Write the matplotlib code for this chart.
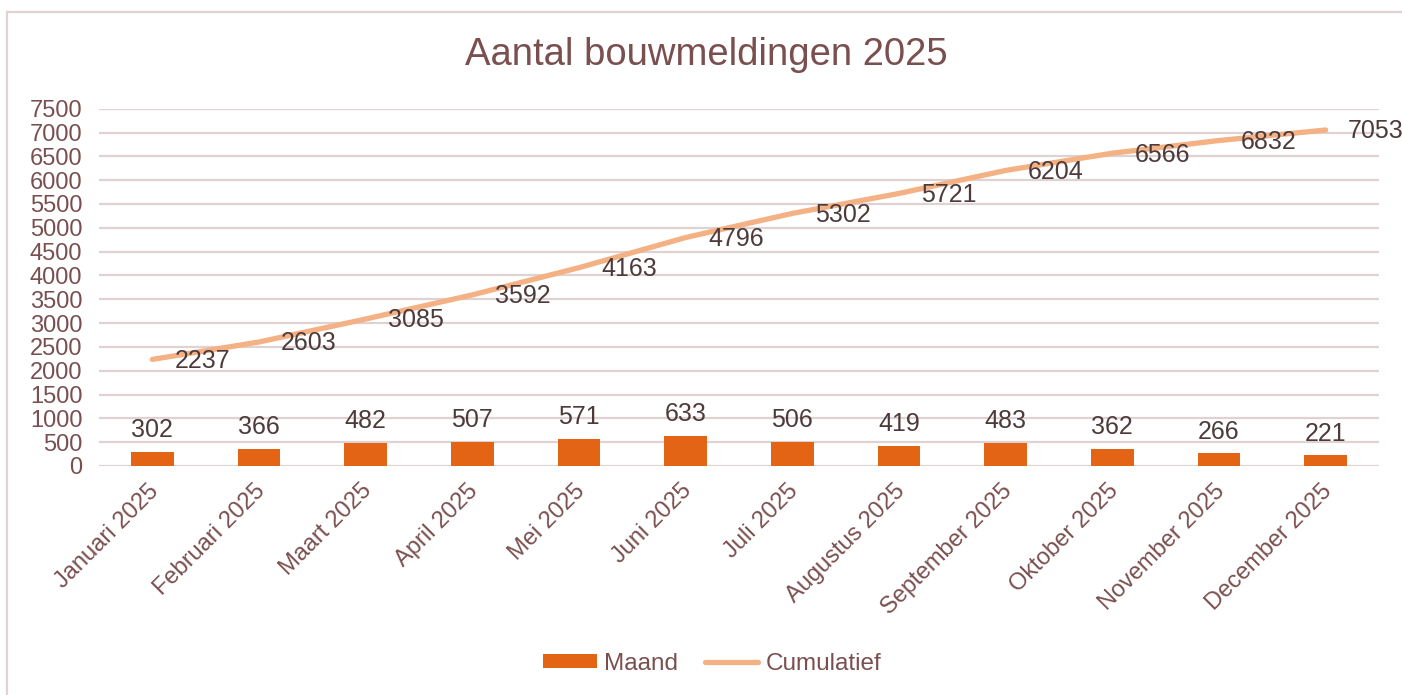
import numpy as np
import matplotlib.pyplot as plt
from matplotlib.lines import Line2D
from matplotlib.transforms import ScaledTranslation


maanden = ['Januari 2025', 'Februari 2025', 'Maart 2025', 'April 2025', 'Mei 2025',
           'Juni 2025', 'Juli 2025', 'Augustus 2025', 'September 2025',
           'Oktober 2025', 'November 2025', 'December 2025']
maand = [302, 366, 482, 507, 571, 633, 506, 419, 483, 362, 266, 221]
cumulatief = [2237, 2603, 3085, 3592, 4163, 4796, 5302, 5721, 6204, 6566, 6832, 7053]
y_ticks = list(range(0, 7501, 500))


def main():
    plt.rcParams['font.family'] = ['Liberation Sans', 'DejaVu Sans']

    tekst_kleur = '#7a4f4f'
    label_kleur = '#4d3b3b'
    bar_kleur = '#e36414'
    lijn_kleur = '#f4b183'
    grid_kleur = '#e0d2d2'

    fig = plt.figure(figsize=(14.02, 6.95), dpi=100)
    ax = fig.add_axes([0.0706, 0.3295, 0.913, 0.5141])

    x = np.arange(len(maanden))

    # staven per maand
    staven = ax.bar(x, maand, width=0.4, color=bar_kleur, label='Maand', zorder=2)
    for xi, v in zip(x, maand):
        ax.annotate(str(v), (xi, v), xytext=(0, 7), textcoords='offset points',
                    ha='center', va='bottom', fontsize=18, color=label_kleur)

    # cumulatieve lijn
    lijn, = ax.plot(x, cumulatief, color=lijn_kleur, lw=3.8, solid_capstyle='round',
                    solid_joinstyle='round', label='Cumulatief', zorder=3)
    for xi, v in zip(x, cumulatief):
        ax.annotate(str(v), (xi, v), xytext=(16, -1), textcoords='offset points',
                    ha='left', va='center', fontsize=18, color=label_kleur,
                    annotation_clip=False)

    ax.set_xlim(-0.5, len(maanden) - 0.5)
    ax.set_ylim(0, 7500)
    ax.set_yticks(y_ticks)
    ax.set_xticks(x)
    ax.set_xticklabels(maanden, rotation=45, ha='right', rotation_mode='anchor')
    ax.tick_params(axis='both', length=0, labelsize=17, labelcolor=tekst_kleur)
    ax.tick_params(axis='x', pad=10)
    ax.tick_params(axis='y', pad=12)
    schuif = ScaledTranslation(-5 / 100, 0, fig.dpi_scale_trans)
    for lbl in ax.get_xticklabels():
        lbl.set_transform(lbl.get_transform() + schuif)
    ax.yaxis.grid(True, color=grid_kleur, lw=1.6, zorder=0)
    ax.set_axisbelow(True)
    for s in ax.spines.values():
        s.set_visible(False)

    fig.text(0.504, 1 - 55 / 695, 'Aantal bouwmeldingen 2025', ha='center', va='center',
             fontsize=27.5, color=tekst_kleur)

    leg = fig.legend([staven, lijn], ['Maand', 'Cumulatief'], loc='center',
                     bbox_to_anchor=(0.508, 0.045), ncol=2, frameon=False,
                     fontsize=17.5, handlelength=2.2, handleheight=0.5,
                     columnspacing=1.1, handletextpad=0.3)
    for t in leg.get_texts():
        t.set_color(tekst_kleur)

    # rand van de grafiek
    fig.add_artist(Line2D([7 / 1402, 7 / 1402], [0, 1 - 12 / 695],
                          transform=fig.transFigure, color=grid_kleur, lw=1.6))
    fig.add_artist(Line2D([7 / 1402, 1], [1 - 12 / 695, 1 - 12 / 695],
                          transform=fig.transFigure, color=grid_kleur, lw=1.6))

    fig.savefig('out.png', dpi=100)


if __name__ == "__main__":
    main()
